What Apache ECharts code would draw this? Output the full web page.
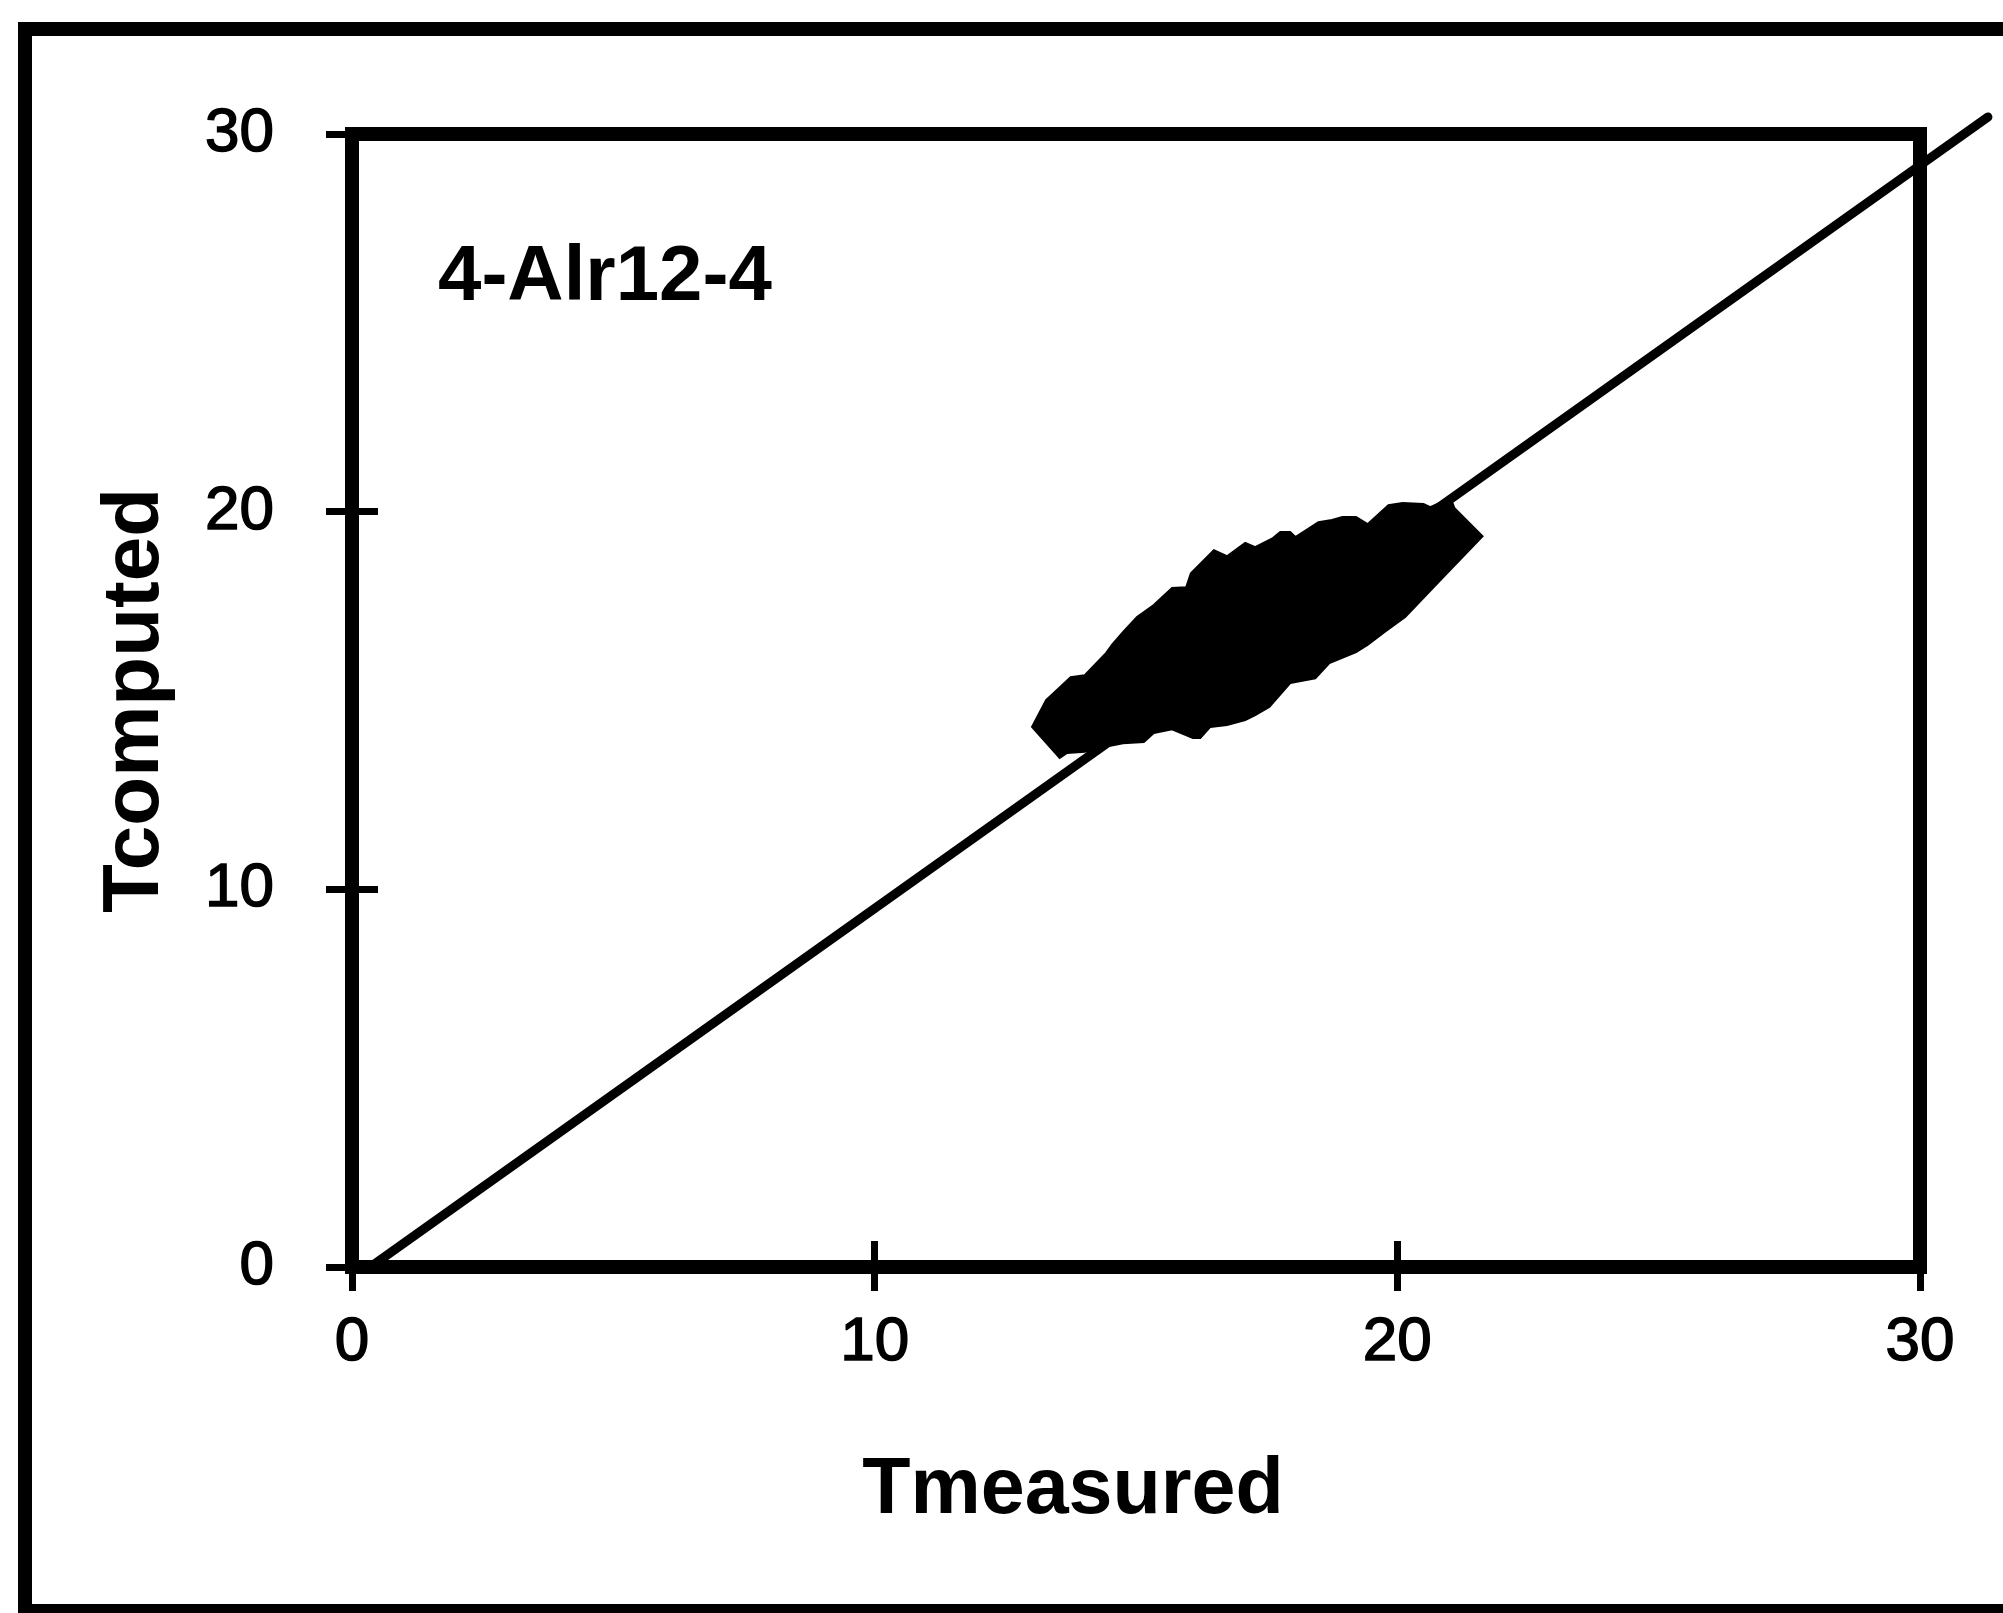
<!DOCTYPE html>
<html>
<head>
<meta charset="utf-8">
<title>Tcomputed vs Tmeasured</title>
<script src="https://cdn.jsdelivr.net/npm/echarts@6/dist/echarts.min.js"></script>
<style>
  html, body { margin: 0; padding: 0; background: #fff; }
  #chart { width: 2003px; height: 1613px; }
</style>
</head>
<body>
<div id="chart"></div>
<script>
// Axis tick values (both axes share the same 0..30 scale)
const tickValues = [0, 10, 20, 30];

// Reference line (computed vs measured); it runs a little past the frame
const fitLineX = [0.35, 31.3];
const fitLineY = [0, 30.45];

// Outline of the dense cloud of measured/computed points (Tmeasured, Tcomputed)
const cloudX = [
  13.01, 13.28, 13.75, 14.02, 14.43, 14.54, 14.75, 15.02, 15.34, 15.69,
  15.96, 16.05, 16.49, 16.74, 17.09, 17.28, 17.62, 17.76, 17.95, 18.05,
  18.49, 18.75, 18.95, 19.21, 19.43, 19.83, 20.10, 20.50, 20.63, 21.02,
  21.09, 21.63,
  20.77, 20.15, 19.75, 19.43, 19.21, 18.70, 18.43, 17.95, 17.55, 17.28,
  17.09, 16.74, 16.42, 16.23, 16.09, 15.69, 15.34, 15.15, 14.75, 14.29,
  14.02, 13.68, 13.54
];
const cloudY = [
  14.30, 15.01, 15.62, 15.67, 16.26, 16.47, 16.81, 17.21, 17.53, 17.98,
  18.00, 18.37, 18.98, 18.82, 19.17, 19.06, 19.30, 19.46, 19.46, 19.33,
  19.72, 19.78, 19.86, 19.86, 19.67, 20.17, 20.23, 20.20, 20.12, 20.36,
  20.10, 19.35,
  18.11, 17.21, 16.81, 16.47, 16.28, 15.99, 15.59, 15.46, 14.83, 14.61,
  14.48, 14.35, 14.30, 14.01, 14.01, 14.24, 14.14, 13.90, 13.87, 13.74,
  13.64, 13.61, 13.48
];

const FONT = '"Liberation Sans", Arial, Helvetica, sans-serif';
const axisMin = tickValues[0];
const axisMax = tickValues[tickValues.length - 1];
const axisStep = tickValues[1] - tickValues[0];

const chart = echarts.init(document.getElementById('chart'), null, { renderer: 'canvas' });

function valueAxis(extra) {
  return Object.assign({
    type: 'value',
    min: axisMin,
    max: axisMax,
    interval: axisStep,
    splitLine: { show: false }
  }, extra);
}

const tickLabel = {
  show: true,
  color: '#000',
  fontSize: 62,
  fontFamily: FONT,
  textBorderColor: '#000',
  textBorderWidth: 1.5
};

const option = {
  backgroundColor: '#fff',
  animation: false,
  grid: {
    left: 352, right: 83, top: 134, bottom: 346,
    show: true,
    borderColor: '#000',
    borderWidth: 14,
    containLabel: false
  },
  graphic: [
    {
      type: 'rect',
      shape: { x: 25, y: 29, width: 2000, height: 1582 },
      style: { fill: 'none', stroke: '#000', lineWidth: 14 },
      silent: true,
      z: 0
    },
    {
      type: 'text',
      x: 438,
      y: 239,
      style: {
        text: '4-Alr12-4',
        font: 'bold 78px ' + FONT,
        fill: '#000',
        textVerticalAlign: 'top'
      },
      z: 10
    }
  ],
  xAxis: [
    valueAxis({
      position: 'bottom',
      axisLine: { show: true, onZero: false, lineStyle: { color: '#000', width: 14 } },
      axisTick: { show: true, inside: false, length: 24, lineStyle: { color: '#000', width: 7 } },
      axisLabel: Object.assign({ margin: 45 }, tickLabel),
      name: 'Tmeasured',
      nameLocation: 'middle',
      nameGap: 185,
      nameTextStyle: { color: '#000', fontSize: 79, fontWeight: 'bold', fontFamily: FONT, padding: [0, 126, 0, 0] }
    }),
    valueAxis({
      position: 'bottom',
      axisLine: { show: false },
      axisTick: { show: true, inside: true, length: 26, lineStyle: { color: '#000', width: 7 } },
      axisLabel: { show: false }
    })
  ],
  yAxis: [
    valueAxis({
      position: 'left',
      axisLine: { show: true, onZero: false, lineStyle: { color: '#000', width: 14 } },
      axisTick: { show: true, inside: false, length: 26, lineStyle: { color: '#000', width: 7 } },
      axisLabel: Object.assign({ margin: 78 }, tickLabel),
      name: 'Tcomputed',
      nameLocation: 'middle',
      nameGap: 176,
      nameTextStyle: { color: '#000', fontSize: 80, fontWeight: 'bold', fontFamily: FONT }
    }),
    valueAxis({
      position: 'left',
      axisLine: { show: false },
      axisTick: { show: true, inside: true, length: 26, lineStyle: { color: '#000', width: 7 } },
      axisLabel: { show: false }
    })
  ],
  series: [
    {
      name: 'cloud',
      type: 'custom',
      xAxisIndex: 0,
      yAxisIndex: 0,
      encode: { x: 0, y: 1 },
      data: cloudX.map((x, i) => [x, cloudY[i]]),
      renderItem: function (params, api) {
        if (params.dataIndexInside !== 0) return;
        const pts = cloudX.map((x, i) => api.coord([x, cloudY[i]]));
        return {
          type: 'polygon',
          shape: { points: pts },
          style: { fill: '#000', stroke: '#000', lineWidth: 2 }
        };
      },
      z: 3
    },
    {
      name: 'line',
      type: 'custom',
      xAxisIndex: 0,
      yAxisIndex: 0,
      encode: { x: 0, y: 1 },
      clip: false,
      data: fitLineX.map((x, i) => [x, fitLineY[i]]),
      renderItem: function (params, api) {
        if (params.dataIndexInside !== 0) return;
        const pts = fitLineX.map((x, i) => api.coord([x, fitLineY[i]]));
        return {
          type: 'polyline',
          shape: { points: pts },
          style: { fill: 'none', stroke: '#000', lineWidth: 9, lineCap: 'round' }
        };
      },
      z: 4
    }
  ]
};

chart.setOption(option);
</script>
</body>
</html>
